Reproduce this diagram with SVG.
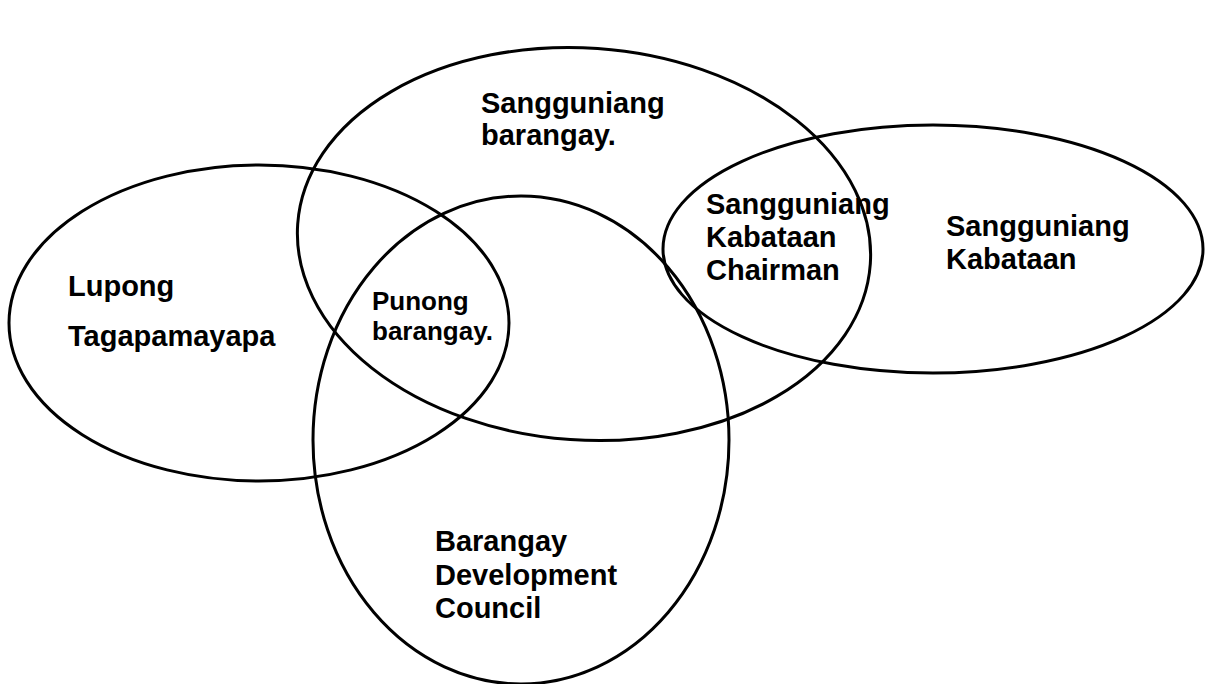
<svg xmlns="http://www.w3.org/2000/svg" width="1211" height="684" viewBox="0 0 1211 684">
<style>
.e{fill:none;stroke:#000;stroke-width:3}
text{font-family:"Liberation Sans",Arial,sans-serif;font-weight:bold;fill:#000}
.t{font-size:29px}
.p{font-size:26px}
.l{font-size:29px}
</style>
<rect width="1211" height="684" fill="#fff"/>
<g id="sb">
<ellipse class="e" cx="584" cy="244" rx="287" ry="196" transform="rotate(4 584 244)"/>
<text class="t" x="481" y="113">Sangguniang</text>
<text class="t" x="481" y="145">barangay.</text>
</g>
<g id="lt">
<ellipse class="e" cx="259" cy="323" rx="250" ry="158"/>
<text class="l" x="68" y="296">Lupong</text>
<text class="l" x="68" y="346">Tagapamayapa</text>
</g>
<g id="bdc">
<ellipse class="e" cx="521" cy="440" rx="208" ry="244"/>
<text class="t" x="435" y="551">Barangay</text>
<text class="t" x="435" y="585">Development</text>
<text class="t" x="435" y="618">Council</text>
</g>
<g id="sk">
<ellipse class="e" cx="933" cy="249" rx="270" ry="124"/>
<text class="t" x="946" y="236">Sangguniang</text>
<text class="t" x="946" y="269">Kabataan</text>
</g>
<g id="skc">
<text class="t" x="706" y="214">Sangguniang</text>
<text class="t" x="706" y="247">Kabataan</text>
<text class="t" x="706" y="280">Chairman</text>
</g>
<g id="pb">
<text class="p" x="372" y="310">Punong</text>
<text class="p" x="372" y="340">barangay.</text>
</g>
<g id="connectors"/>
</svg>
